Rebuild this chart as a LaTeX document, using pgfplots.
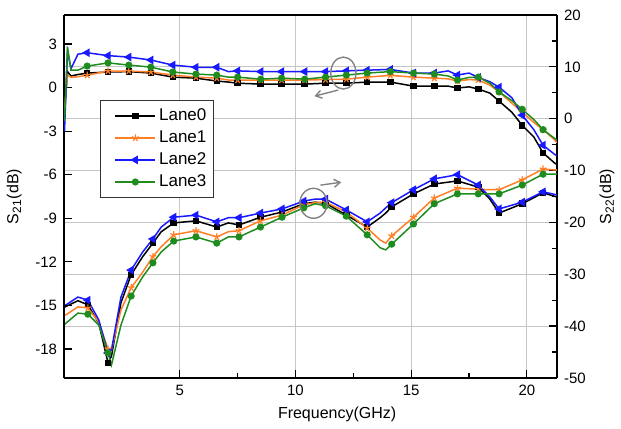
\documentclass[border=0pt]{standalone}
\usepackage{fontspec}
\setmainfont{Liberation Sans}
\usepackage{pgfplots}
\pgfplotsset{compat=1.18}
\usetikzlibrary{arrows.meta}
\definecolor{Lorange}{RGB}{255,127,39}
\definecolor{Lblue}{RGB}{25,25,255}
\definecolor{Lgreen}{RGB}{30,140,30}
\definecolor{annot}{RGB}{130,130,130}
\pgfplotsset{
 common/.style={scale only axis, width=246.5pt, height=181.5pt, xmin=0, xmax=21.3,
   /pgf/number format/assume math mode=true,
   tick label style={font=\fontsize{7.5}{9}\selectfont},
   label style={font=\fontsize{8}{10}\selectfont},
   axis line style={line width=0.8pt},
   major tick length=4pt, minor tick length=2.5pt,
   every tick/.style={black, line width=0.6pt}},
 l0/.style={black, line width=0.75pt, mark=square*, mark size=1.25pt},
 l1/.style={Lorange, line width=0.75pt, mark=star, mark size=1.8pt, mark options={line width=0.6pt}},
 l2/.style={Lblue, line width=0.75pt, mark=triangle*, mark size=1.8pt, mark options={rotate=90}},
 l3/.style={Lgreen, line width=0.75pt, mark=*, mark size=1.4pt},
 upm/.style={mark indices={5,6,7,8,9,10,11,13,14,15,16,17,18,19,20,21,22,24,26,28,30,32}},
 lom/.style={mark indices={4,6,9,11,13,14,15,17,18,19,20,22,23,24,27,28,29,30,31,33,34,35}},
}
\begin{document}
\begin{tikzpicture}
% ---------- right axis: S22 ----------
\begin{axis}[common, name=ax, axis y line*=right,
  ymin=-50, ymax=20, ytick={-50,-40,...,20}, minor y tick num=1,
  xtick={5,10,15,20}, minor x tick num=1, xtick pos=left,
  xmajorgrids, ymajorgrids, grid style={line width=0.5pt, gray!45},
  xlabel={Frequency(GHz)}, ylabel={S\textsubscript{22}(dB)},
  xlabel style={at={(axis description cs:0.554,0)}, anchor=north, yshift=-11pt}]
\addplot[l0, lom] table {
x y
0.0 -36.4
0.09 -36.2
0.6 -35.1
1.03 -35.9
1.5 -39.4
1.9 -47.1
2.05 -45.8
2.46 -35.5
2.9 -30.1
3.4 -26.6
3.84 -24.0
4.2 -21.8
4.74 -20.1
5.7 -19.7
6.6 -20.9
7.1 -20.1
7.56 -20.5
8.49 -19.0
9.42 -18.0
10.36 -16.4
10.85 -16.1
11.3 -16.3
12.2 -18.6
13.1 -20.9
13.66 -19.1
13.9 -18.2
14.16 -17.0
15.1 -14.5
16.0 -12.6
17.0 -12.0
17.9 -13.2
18.4 -15.5
18.8 -18.2
19.8 -16.4
20.7 -14.3
21.3 -15.1
};
\addplot[l1, lom] table {
x y
0.0 -38.0
0.09 -37.8
0.6 -36.3
1.03 -36.5
1.5 -39.2
1.9 -44.4
2.05 -44.6
2.46 -36.9
2.9 -32.6
3.4 -29.6
3.84 -26.6
4.2 -24.7
4.74 -22.4
5.7 -21.6
6.6 -22.8
7.1 -21.8
7.56 -21.6
8.49 -19.7
9.42 -18.6
10.36 -16.6
10.85 -16.2
11.3 -16.1
12.2 -18.0
13.1 -21.1
13.66 -23.4
13.9 -24.0
14.16 -22.6
15.1 -19.0
16.0 -15.3
17.0 -13.4
17.9 -13.6
18.4 -13.7
18.8 -13.7
19.8 -11.8
20.7 -9.7
21.3 -9.9
};
\addplot[l2, lom] table {
x y
0.0 -36.0
0.09 -35.9
0.6 -34.4
1.03 -35.0
1.5 -38.8
1.9 -45.2
2.05 -44.6
2.46 -34.4
2.9 -29.2
3.4 -25.7
3.84 -23.2
4.2 -20.9
4.74 -19.0
5.7 -18.6
6.6 -19.9
7.1 -19.1
7.56 -19.1
8.49 -18.2
9.42 -17.4
10.36 -15.9
10.85 -15.5
11.3 -15.5
12.2 -17.6
13.1 -19.9
13.66 -18.2
13.9 -17.2
14.16 -16.2
15.1 -13.7
16.0 -11.6
17.0 -10.8
17.9 -12.8
18.4 -15.1
18.8 -17.4
19.8 -16.1
20.7 -14.1
21.3 -14.7
};
\addplot[l3, lom] table {
x y
0.0 -39.8
0.09 -39.4
0.6 -37.5
1.03 -37.7
1.5 -39.8
1.9 -45.2
2.05 -47.5
2.46 -39.8
2.9 -34.2
3.4 -30.5
3.84 -27.8
4.2 -25.7
4.74 -23.6
5.7 -22.8
6.6 -24.0
7.1 -22.8
7.56 -22.8
8.49 -20.9
9.42 -19.0
10.36 -17.2
10.85 -16.4
11.3 -16.8
12.2 -18.8
13.1 -22.4
13.66 -24.9
13.9 -25.3
14.16 -24.2
15.1 -20.3
16.0 -16.4
17.0 -14.5
17.9 -14.5
18.4 -14.5
18.8 -14.5
19.8 -12.8
20.7 -10.7
21.3 -10.7
};
\end{axis}
% ---------- left axis: S21 ----------
\begin{axis}[common, axis y line*=left, axis x line=none,
  ymin=-20, ymax=5, ytick={-18,-15,...,3},
  ylabel={S\textsubscript{21}(dB)},
  legend cell align=left,
  legend style={at={(0.073,0.766)}, anchor=north west, draw=black!80, line width=0.6pt,
    fill=white, font=\fontsize{8.5}{10}\selectfont, row sep=0.6pt, inner xsep=2pt, inner ysep=2.5pt,
    nodes={inner sep=1.5pt}},
  legend image code/.code={\path (-5pt,0pt); \draw[#1, mark repeat=2, mark phase=2] plot coordinates {(0pt,0pt) (10pt,0pt) (20pt,0pt)};}]
\addlegendimage{l0}\addlegendentry{Lane0}
\addlegendimage{l1}\addlegendentry{Lane1}
\addlegendimage{l2}\addlegendentry{Lane2}
\addlegendimage{l3}\addlegendentry{Lane3}
\addplot[l0, upm, forget plot] table {
x y
0.02 -1.5
0.15 1.1
0.3 0.8
0.6 0.9
1.0 1.0
1.9 1.07
2.8 1.1
3.75 1.0
4.7 0.72
5.7 0.65
6.6 0.45
7.1 0.38
7.5 0.3
8.5 0.24
9.4 0.24
10.4 0.24
11.3 0.3
12.2 0.3
13.1 0.38
14.1 0.38
15.1 0.1
16.0 0.1
16.6 0.1
17.0 -0.03
17.5 0.05
17.9 -0.1
18.4 -0.38
18.8 -0.93
19.35 -1.7
19.8 -2.6
20.3 -3.4
20.7 -4.5
21.2 -5.2
21.3 -5.3
};
\addplot[l1, upm, forget plot] table {
x y
0.02 -1.5
0.15 0.9
0.3 0.7
0.6 0.75
1.0 0.85
1.9 1.14
2.8 1.14
3.75 1.07
4.7 0.86
5.7 0.72
6.6 0.65
7.1 0.52
7.5 0.52
8.5 0.52
9.4 0.52
10.4 0.52
11.3 0.55
12.2 0.58
13.1 0.72
14.1 0.84
15.1 0.72
16.0 0.65
16.6 0.6
17.0 0.45
17.5 0.55
17.9 0.52
18.4 0.17
18.8 -0.3
19.35 -1.07
19.8 -1.7
20.3 -2.4
20.7 -2.9
21.2 -3.6
21.3 -3.8
};
\addplot[l2, upm, forget plot] table {
x y
0.02 -3.0
0.15 2.5
0.3 1.3
0.6 2.3
1.0 2.4
1.9 2.2
2.8 2.1
3.75 1.9
4.7 1.55
5.7 1.4
6.6 1.4
7.1 1.1
7.5 1.15
8.5 1.1
9.4 1.1
10.4 1.1
11.3 1.1
12.2 1.15
13.1 1.2
14.1 1.25
15.1 1.0
16.0 1.0
16.6 1.15
17.0 0.86
17.5 1.0
17.9 0.7
18.4 0.4
18.8 0.03
19.35 -0.7
19.8 -1.9
20.3 -2.9
20.7 -3.97
21.2 -4.6
21.3 -4.7
};
\addplot[l3, upm, forget plot] table {
x y
0.02 -2.3
0.15 2.8
0.3 1.2
0.6 1.2
1.0 1.48
1.9 1.7
2.8 1.55
3.75 1.41
4.7 1.07
5.7 0.93
6.6 0.86
7.1 0.72
7.5 0.72
8.5 0.58
9.4 0.65
10.4 0.58
11.3 0.72
12.2 0.86
13.1 1.0
14.1 1.1
15.1 1.0
16.0 0.93
16.6 0.8
17.0 0.52
17.5 0.7
17.9 0.72
18.4 0.3
18.8 -0.3
19.35 -0.9
19.8 -1.5
20.3 -2.2
20.7 -2.9
21.2 -3.5
21.3 -3.6
};
\draw[annot, line width=0.7pt] (axis cs:12.07,1.0) ellipse [x radius=6.3pt, y radius=8pt];
\draw[annot, line width=0.7pt, -{Straight Barb[length=3pt,width=4pt]}] (axis cs:11.85,-0.17) -- (axis cs:10.82,-0.59);
\draw[annot, line width=0.7pt] (axis cs:10.78,-7.97) ellipse [x radius=6.8pt, y radius=7.5pt];
\draw[annot, line width=0.7pt, -{Straight Barb[length=3pt,width=4pt]}] (axis cs:11.08,-6.72) -- (axis cs:11.98,-6.52);
\end{axis}
\path (ax.south west) ++(-32pt,-22.5pt);
\path (ax.north east) ++(32pt,7.5pt);
\end{tikzpicture}
\end{document}
